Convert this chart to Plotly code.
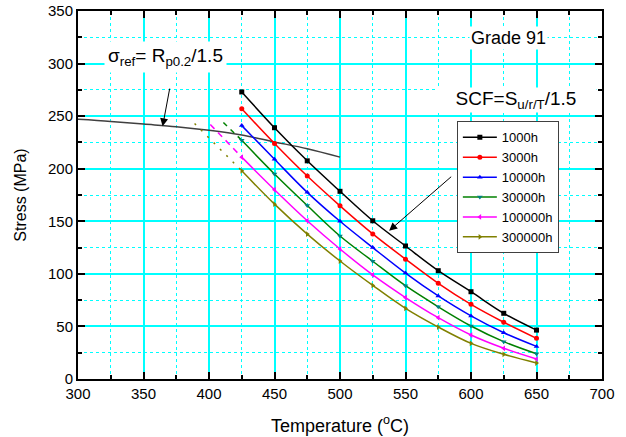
import plotly.graph_objects as go

temps = [425, 450, 475, 500, 525, 550, 575, 600, 625, 650]
s_1000h = [273, 239, 207.5, 178.5, 150.5, 126.5, 103, 83, 62.5, 46.5]
s_3000h = [257, 224, 193, 164.7, 138, 114, 91, 71, 54, 38.7]
s_10000h = [241, 209, 177.5, 150, 125, 100.7, 79, 60, 44, 31]
s_30000h = [227, 195, 165, 136, 112, 88.7, 68.7, 50.4, 35.5, 24]
s_100000h = [211, 180, 150.5, 123.6, 99, 77.5, 58.3, 41.8, 29.2, 19]
s_300000h = [198, 166.3, 137.8, 112.2, 89, 67.2, 49.4, 33.9, 23.5, 15.2]

ref_temps = [300, 325, 350, 375, 400, 425, 450, 475, 500]
ref_stress = [247, 245, 242.5, 240, 236.5, 232, 225.5, 219, 211]

ext_30000h_t = [411, 425]
ext_30000h_s = [244, 227]
ext_100000h_t = [401, 425]
ext_100000h_s = [242, 211]
ext_300000h_t = [389, 425]
ext_300000h_s = [243, 198]

series = [
    ("1000h", s_1000h, "#000000", "#000000", "square"),
    ("3000h", s_3000h, "#FF0000", "#FF0000", "circle"),
    ("10000h", s_10000h, "#0000FF", "#0000FF", "triangle-up"),
    ("30000h", s_30000h, "#008000", "#008080", "triangle-down"),
    ("100000h", s_100000h, "#FF00FF", "#FF00FF", "triangle-left"),
    ("300000h", s_300000h, "#808000", "#808000", "triangle-right"),
]

FONT = "Arial, 'Liberation Sans', sans-serif"
fig = go.Figure()

fig.add_trace(go.Scatter(x=ref_temps, y=ref_stress, mode="lines",
                         line=dict(color="#404040", width=1.5, shape="spline"),
                         showlegend=False, hoverinfo="skip"))

for t, s, c, d in [(ext_30000h_t, ext_30000h_s, "#008000", "5px,5px"),
                   (ext_100000h_t, ext_100000h_s, "#FF00FF", "6px,5px"),
                   (ext_300000h_t, ext_300000h_s, "#808000", "2px,7px")]:
    fig.add_trace(go.Scatter(x=t, y=s, mode="lines",
                             line=dict(color=c, width=1.5, dash=d),
                             showlegend=False, hoverinfo="skip"))

for name, s, lc, mc, sym in series:
    fig.add_trace(go.Scatter(x=temps, y=s, mode="lines+markers", name=name,
                             line=dict(color=lc, width=1.5, shape="spline"),
                             marker=dict(color=mc, symbol=sym, size=5)))

grid = "#00FFFF"
axis_common = dict(
    showline=True, linecolor="black", linewidth=2, mirror="allticks",
    ticks="inside", ticklen=7, tickwidth=2, tickcolor="black",
    showgrid=True, gridcolor=grid, gridwidth=1.5, zeroline=False,
    automargin=False,
    tickfont=dict(family=FONT, size=15, color="black"),
)

fig.update_xaxes(range=[300, 700], dtick=50, tick0=300,
                 title=dict(text="Temperature (<sup>o</sup>C)",
                            font=dict(family=FONT, size=18, color="black"),
                            standoff=18),
                 minor=dict(dtick=25, showgrid=True, gridcolor=grid, griddash="dot",
                            gridwidth=1, ticks="inside", ticklen=4, tickwidth=1.5,
                            tickcolor="black"),
                 **axis_common)
fig.update_yaxes(range=[0, 350], dtick=50, tick0=0,
                 title=dict(text="Stress (MPa)",
                            font=dict(family=FONT, size=16, color="black"),
                            standoff=17),
                 minor=dict(dtick=25, showgrid=True, gridcolor=grid, griddash="dot",
                            gridwidth=1, ticks="inside", ticklen=4, tickwidth=1.5,
                            tickcolor="black"),
                 **axis_common)

fig.add_annotation(x=367, y=306, xref="x", yref="y",
                   text="σ<sub>ref</sub>= R<sub>p0.2</sub>/1.5", showarrow=False,
                   font=dict(family=FONT, size=19, color="black"),
                   bgcolor="white", borderpad=3)
fig.add_annotation(x=628.5, y=324, xref="x", yref="y", text="Grade 91",
                   showarrow=False, font=dict(family=FONT, size=18, color="black"),
                   bgcolor="white", borderpad=1)
fig.add_annotation(x=634, y=265, xref="x", yref="y",
                   text="SCF=S<sub>u/r/T</sub>/1.5", showarrow=False,
                   font=dict(family=FONT, size=19, color="black"),
                   bgcolor="white", width=160, borderpad=0)

fig.add_annotation(x=364.6, y=240.3, ax=370.2, ay=277.6, xref="x", yref="y",
                   axref="x", ayref="y", text="", showarrow=True,
                   arrowhead=2, arrowsize=1.6, arrowwidth=1, arrowcolor="black")
fig.add_annotation(x=537.5, y=141, ax=586, ay=193.6, xref="x", yref="y",
                   axref="x", ayref="y", text="", showarrow=True,
                   arrowhead=2, arrowsize=1.6, arrowwidth=1, arrowcolor="black")

fig.update_layout(
    width=626, height=437,
    margin=dict(l=78, r=24, t=11, b=58),
    paper_bgcolor="white", plot_bgcolor="white",
    font=dict(family=FONT, color="black"),
    legend=dict(x=0.723, y=0.70, xanchor="left", yanchor="top",
                bgcolor="white", bordercolor="#404040", borderwidth=1,
                font=dict(family=FONT, size=13, color="black"),
                itemwidth=34, tracegroupgap=0),
)

fig.write_html("out.html", config={"displayModeBar": False},
               post_script="document.body.style.margin='0';")
